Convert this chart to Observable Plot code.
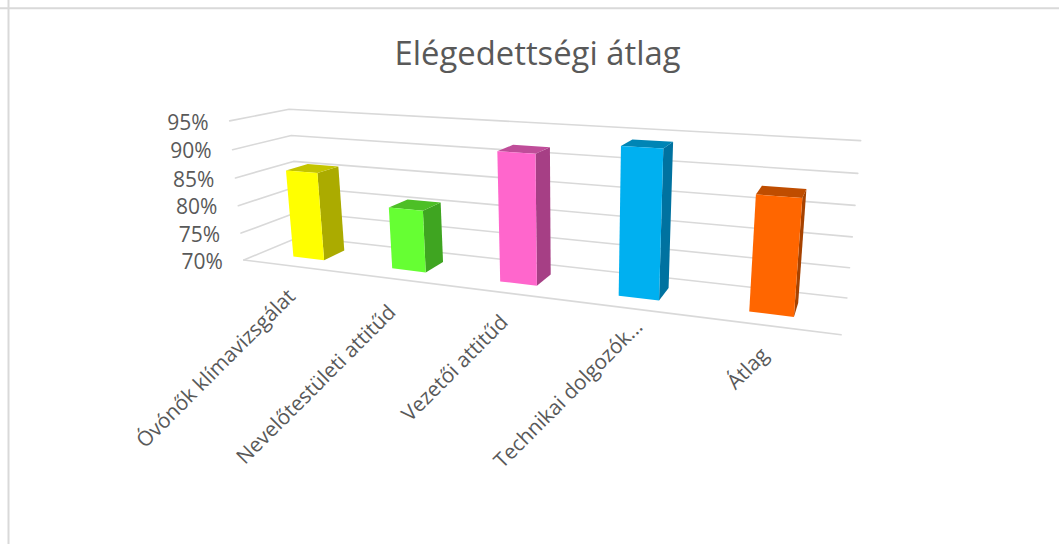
<!DOCTYPE html>
<html><head><meta charset="utf-8">
<script src="https://cdn.jsdelivr.net/npm/d3@7"></script>
<script src="https://cdn.jsdelivr.net/npm/@observablehq/plot@0.6"></script>
<style>html,body{margin:0;background:#fff}</style></head>
<body><div id="c"></div>
<script>
const categories = ["Óvónők klímavizsgálat","Nevelőtestületi attitűd","Vezetői attitűd","Technikai dolgozók...","Átlag"];
const values = [85.9, 80.9, 91.9, 94, 88.1];
const ticks = [70,75,80,85,90,95];
const faceColors = ["#FFFF00","#66FF33","#FF66CC","#00B0F0","#FF6600"];
const topColors = ["#C4C400","#4DBF26","#BF4D99","#0085B5","#BF4D00"];
const sideColors = ["#ABAB00","#3FA521","#A63F85","#0072A0","#A64200"];
// camera calibration: [category position, value, depth, screen x, screen y]
const calib = [
 [0,95,0,229,120.3],[0,90,0,232.3,149.3],[0,85,0,235.3,177.7],[0,80,0,237.7,205.3],[0,75,0,240.3,232.7],[0,70,0,243.3,259.3],
 [0,95,1,288.3,108.7],[0,90,1,290.7,135],[0,85,1,293.3,160.7],
 [5,95,1,860,140],[5,90,1,857.3,172.7],[5,85,1,854.7,205],[5,80,1,851.7,236.7],[5,75,1,849,267],[5,70,1,846.3,297.7],
 [5,70,0,840.7,334]];
// label placement relative to the floor's front edge
const labelNudge = [[0,27],[-2,30],[-2,26],[9,15],[-2,26]];
function solve(A,b){const n=b.length;const M=A.map((r,i)=>[...r,b[i]]);
 for(let c=0;c<n;c++){let p=c;for(let r=c+1;r<n;r++)if(Math.abs(M[r][c])>Math.abs(M[p][c]))p=r;[M[c],M[p]]=[M[p],M[c]];
  for(let r=0;r<n;r++){if(r===c)continue;const f=M[r][c]/M[c][c];for(let k=c;k<=n;k++)M[r][k]-=f*M[c][k];}}
 return M.map((r,i)=>r[n]/r[i]);}
const nv=v=>(v-70)/25, nu=u=>u/5;
const rows=[],rhs=[];
for(const [u,v,w,x,y] of calib){const X=nu(u),Y=nv(v),Z=w;
 rows.push([X,Y,Z,1,0,0,0,0,-x*X,-x*Y,-x*Z]);rhs.push(x);
 rows.push([0,0,0,0,X,Y,Z,1,-y*X,-y*Y,-y*Z]);rhs.push(y);}
const ATA=d3.range(11).map(i=>d3.range(11).map(j=>d3.sum(rows,r=>r[i]*r[j])));
const ATb=d3.range(11).map(i=>d3.sum(rows,(r,k)=>r[i]*rhs[k]));
const P=solve(ATA,ATb);
function project(u,v,w){const X=nu(u),Y=nv(v),Z=w,d=P[8]*X+P[9]*Y+P[10]*Z+1;
 return {x:(P[0]*X+P[1]*Y+P[2]*Z+P[3])/d,y:(P[4]*X+P[5]*Y+P[6]*Z+P[7])/d};}
const halfWidth=0.16,w0=0.3,w1=0.69;
const grid=ticks.flatMap(t=>[[0,t,0],[0,t,1],[5,t,1]].map(([u,v,w])=>({...project(u,v,w),t})));
const floorFront=[project(0,70,0),project(5,70,0)];
function poly(pts,fill){return Plot.line(pts.map(p=>project(...p)),{x:"x",y:"y",fill,stroke:"none",curve:"linear"});}
const bars=categories.flatMap((c,i)=>{const a=i+.5-halfWidth,b=i+.5+halfWidth,v=values[i];
 return [poly([[b,70,w0],[b,70,w1],[b,v,w1],[b,v,w0]],sideColors[i]),
  poly([[a,v,w0],[b,v,w0],[b,v,w1],[a,v,w1]],topColors[i]),
  poly([[a,70,w0],[b,70,w0],[b,v,w0],[a,v,w0]],faceColors[i])];});
const font="Open Sans";
const plot=Plot.plot({width:1059,height:544,margin:0,
 x:{domain:[0,1059],range:[0,1059],axis:null},y:{domain:[0,544],range:[0,544],axis:null},
 marks:[
  Plot.ruleY([7.7],{stroke:"#d9d9d9",strokeWidth:2}),
  Plot.ruleX([8],{stroke:"#d9d9d9",strokeWidth:2}),
  Plot.line(grid,{x:"x",y:"y",z:"t",stroke:"#d9d9d9",strokeWidth:1.6}),
  Plot.line(floorFront,{x:"x",y:"y",stroke:"#d9d9d9",strokeWidth:1.6}),
  ...bars,
  Plot.text(ticks,{x:t=>project(0,t,0).x-21,y:t=>project(0,t,0).y+2,text:t=>t+"%",textAnchor:"end",fontSize:21,fill:"#595959",fontFamily:font}),
  Plot.text(categories,{x:(c,i)=>project(i+.5,70,0).x+labelNudge[i][0],y:(c,i)=>project(i+.5,70,0).y+labelNudge[i][1],text:d=>d,rotate:-45,textAnchor:"end",fontSize:20.7,fill:"#595959",fontFamily:font}),
  Plot.text(["Elégedettségi átlag"],{x:()=>537,y:()=>54,text:d=>d,fontSize:32.8,fill:"#595959",fontFamily:font})
 ]});
document.getElementById("c").append(plot);
</script></body></html>
